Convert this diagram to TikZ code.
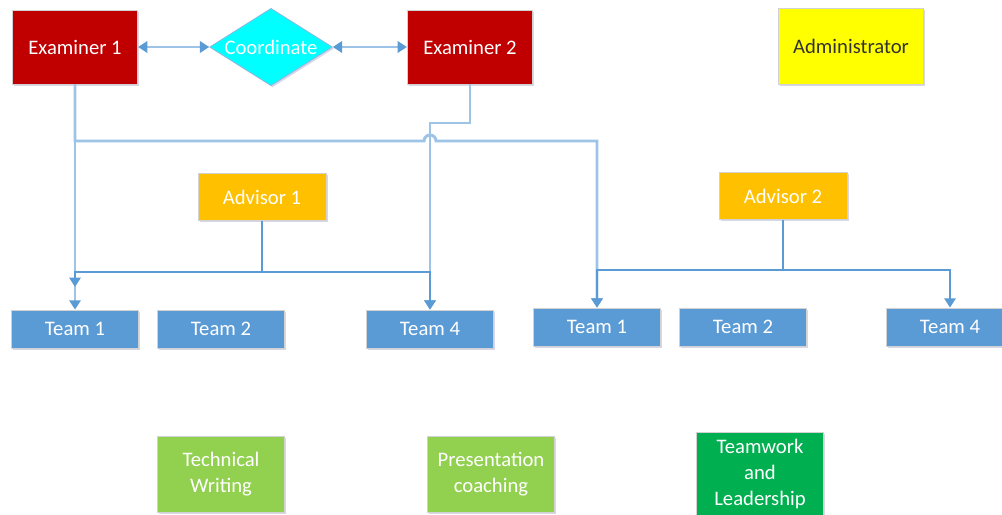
\documentclass[tikz,border=0pt]{standalone}
\usepackage{fontspec}
\setmainfont{Carlito}
\usetikzlibrary{shapes.geometric,arrows.meta,shadows}
\definecolor{examRed}{HTML}{C00000}
\definecolor{coordCyan}{HTML}{00FFFF}
\definecolor{advOrange}{HTML}{FFC000}
\definecolor{teamBlue}{HTML}{5B9BD5}
\definecolor{adminYellow}{HTML}{FFFF00}
\definecolor{skillGreen}{HTML}{92D050}
\definecolor{leadGreen}{HTML}{00B050}
\definecolor{exLine}{HTML}{9DC3E6}
\definecolor{advLine}{HTML}{5B9BD5}
\tikzset{
  unit/.style={draw=gray!35, line width=0.6pt, inner sep=0pt, align=center, text=white,
    font=\fontsize{15.5}{19.5}\selectfont,
    drop shadow={shadow xshift=1.2pt, shadow yshift=-1.2pt, opacity=0.25, fill=blue!25!gray}},
  examiner/.style={unit, fill=examRed, minimum width=94pt, minimum height=55.5pt},
  advisor/.style={unit, fill=advOrange, minimum width=96pt, minimum height=35pt},
  team/.style={unit, fill=teamBlue, minimum width=95pt, minimum height=28.5pt},
  skill/.style={unit, fill=skillGreen, minimum width=95pt, minimum height=57pt},
  tip/.style={-{Triangle[width=8.5pt,length=7pt,color=advLine]}},
  bothtip/.style={{Triangle[width=8.5pt,length=7pt,color=advLine]}-{Triangle[width=8.5pt,length=7pt,color=advLine]}},
  exlink/.style={draw=exLine, line width=2.2pt},
  advlink/.style={draw=advLine, line width=1.6pt}
}
\begin{document}
\begin{tikzpicture}[x=0.75pt,y=-0.75pt]
\clip (0,0) rectangle (1002,514);
\node[examiner] (ex1) at (75,47) {Examiner 1};
\node[unit, diamond, fill=coordCyan, draw=teamBlue!70, minimum width=92pt, minimum height=58pt,
  label={[text=white, font=\fontsize{15.5}{19.5}\selectfont]center:Coordinate}] (coord) at (271,47) {};
\node[examiner] (ex2) at (470,47) {Examiner 2};
\node[unit, fill=adminYellow, text=black!80, minimum width=109pt, minimum height=57pt] (admin) at (851,46) {Administrator};
\node[advisor] (adv1) at (262,197) {Advisor 1};
\node[advisor] (adv2) at (783,196) {Advisor 2};
\node[team] (ta1) at (75,329) {Team 1};
\node[team] (ta2) at (221,329) {Team 2};
\node[team] (ta4) at (430,329) {Team 4};
\node[team] (tb1) at (597,327) {Team 1};
\node[team] (tb2) at (743,327) {Team 2};
\node[team] (tb4) at (950,327) {Team 4};
\node[skill] (tech) at (221,474) {Technical\\Writing};
\node[skill] (pres) at (491,474) {Presentation\\coaching};
\node[skill, fill=leadGreen, minimum height=63pt] (lead) at (760,474) {Teamwork\\and\\Leadership};
\coordinate (hopL) at (424,141);
\coordinate (hopR) at (436,141);
\coordinate (lvl2) at (0,123);
\coordinate (bus1) at (0,272);
\coordinate (bus2) at (0,270);
\draw[exlink, bothtip] (ex1) -- (coord);
\draw[exlink, bothtip] (coord) -- (ex2);
\draw[exlink, tip] (ex2.south) -- (ex2.south |- lvl2) -| (ta4.north);
\draw[exlink, tip] (ex1.south) -- (ta1.north);
\draw[exlink, tip] (ex1.south) |- (hopL) arc[start angle=180, end angle=360, radius=6] -- (hopR -| tb1.north) -- (tb1.north);
\draw[advlink, tip, shorten >=17pt] (adv1.south) -- (adv1.south |- bus1) -| (ta1.north);
\draw[advlink, tip] (adv1.south) -- (adv1.south |- bus1) -| (ta4.north);
\draw[advlink, tip] (adv2.south) -- (adv2.south |- bus2) -| (tb1.north);
\draw[advlink, tip] (adv2.south) -- (adv2.south |- bus2) -| (tb4.north);
\end{tikzpicture}
\end{document}
